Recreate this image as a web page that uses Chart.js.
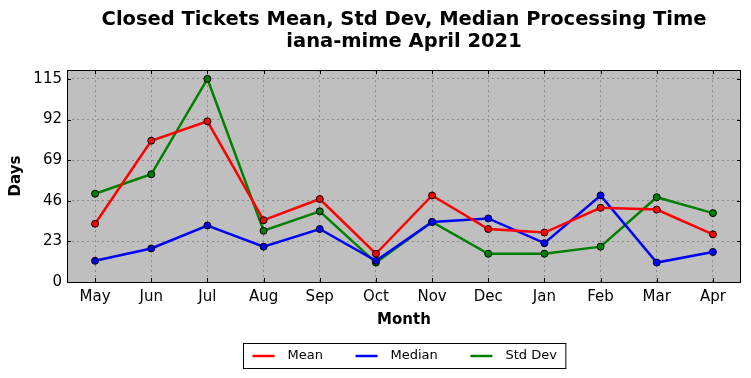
<!DOCTYPE html>
<html>
<head>
<meta charset="utf-8">
<script src="https://cdn.jsdelivr.net/npm/chart.js@4.4.1/dist/chart.umd.min.js"></script>
<style>
  html, body { margin: 0; padding: 0; background: #ffffff; }
  #wrap { width: 751px; height: 378px; position: relative; }
</style>
</head>
<body>
<div id="wrap"><canvas id="c" width="751" height="378"></canvas></div>
<script>
const months = ["May","Jun","Jul","Aug","Sep","Oct","Nov","Dec","Jan","Feb","Mar","Apr"];
const meanValues = [33, 80, 91, 35, 47, 16, 49, 30, 28, 42, 41, 27];
const medianValues = [12, 19, 32, 20, 30, 12, 34, 36, 22, 49, 11, 17];
const stdDevValues = [50, 61, 115, 29, 40, 11, 34, 16, 16, 20, 48, 39];
const yTicks = [0, 23, 46, 69, 92, 115];
const titleLines = ["Closed Tickets Mean, Std Dev, Median Processing Time", "iana-mime April 2021"];

const FONT = "'DejaVu Sans', 'Liberation Sans', sans-serif";
const GRID = '#8a8a8a';

const framePlugin = {
  id: 'framePlugin',
  beforeDraw(chart) {
    const {ctx, chartArea: a} = chart;
    ctx.save();
    ctx.fillStyle = '#bfbfbf';
    ctx.fillRect(a.left, a.top, a.right - a.left, a.bottom - a.top);
    ctx.restore();
  },
  afterDraw(chart) {
    const {ctx, chartArea: a} = chart;
    const xs = chart.scales.x, ys = chart.scales.y;
    ctx.save();
    ctx.strokeStyle = '#000';
    ctx.lineWidth = 1;
    // inward tick marks
    ctx.beginPath();
    xs.ticks.forEach((t, i) => {
      const x = Math.round(xs.getPixelForTick(i)) + 0.5;
      ctx.moveTo(x, a.bottom); ctx.lineTo(x, a.bottom - 4);
      ctx.moveTo(x, a.top); ctx.lineTo(x, a.top + 4);
    });
    ys.ticks.forEach((t, i) => {
      const y = Math.round(ys.getPixelForTick(i)) + 0.5;
      ctx.moveTo(a.left, y); ctx.lineTo(a.left + 4, y);
      ctx.moveTo(a.right, y); ctx.lineTo(a.right - 4, y);
    });
    ctx.stroke();
    // frame
    ctx.strokeRect(Math.round(a.left) + 0.5, Math.round(a.top) + 0.5,
                   Math.round(a.right - a.left) - 1, Math.round(a.bottom - a.top));
    // custom legend (matplotlib-style, centred on plot area)
    const ds = chart.data.datasets;
    ctx.font = "13px " + FONT;
    const lineLen = 22, gapText = 13, gapItem = 32.6, pad = 9;
    const widths = ds.map(d => ctx.measureText(d.label).width);
    let total = pad * 2;
    widths.forEach((w, i) => { total += lineLen + gapText + w + (i < ds.length - 1 ? gapItem : 0); });
    const cx = (a.left + a.right) / 2;
    const boxL = Math.round(cx - total / 2) + 0.5;
    const boxT = 343.5, boxH = 25;
    ctx.fillStyle = '#ffffff';
    ctx.fillRect(boxL, boxT, total, boxH);
    ctx.strokeStyle = '#000';
    ctx.lineWidth = 1;
    ctx.strokeRect(boxL, boxT, total, boxH);
    let x = boxL + pad;
    const yMid = boxT + boxH / 2;
    ds.forEach((d, i) => {
      ctx.strokeStyle = d.borderColor;
      ctx.lineWidth = 2.5;
      ctx.beginPath();
      ctx.moveTo(x, yMid); ctx.lineTo(x + lineLen, yMid);
      ctx.stroke();
      x += lineLen + gapText;
      ctx.fillStyle = '#000';
      ctx.textBaseline = 'middle';
      ctx.textAlign = 'left';
      ctx.fillText(d.label, x, yMid);
      x += widths[i] + gapItem;
    });
    ctx.restore();
  }
};

function mkSeries(label, data, color) {
  return {
    label, data,
    borderColor: color,
    backgroundColor: color,
    borderWidth: 2.5,
    tension: 0,
    pointRadius: 3.5,
    pointHoverRadius: 3.5,
    pointBackgroundColor: color,
    pointBorderColor: '#000',
    pointBorderWidth: 1,
    fill: false
  };
}

new Chart(document.getElementById('c'), {
  type: 'line',
  data: {
    labels: months,
    datasets: [
      mkSeries('Mean', meanValues, '#ff0000'),
      mkSeries('Median', medianValues, '#0000ff'),
      mkSeries('Std Dev', stdDevValues, '#008000')
    ]
  },
  options: {
    responsive: false,
    animation: false,
    devicePixelRatio: 1,
    layout: { padding: { top: 0, left: 0, right: 10, bottom: 45 } },
    plugins: {
      legend: { display: false },
      tooltip: { enabled: false },
      title: {
        display: true,
        fullSize: false,
        text: titleLines,
        color: '#000',
        font: { family: FONT, size: 19.5, weight: 'bold', lineHeight: 1.13 },
        padding: { top: 9, bottom: 17 }
      }
    },
    scales: {
      x: {
        offset: true,
        grid: { display: true, offset: false, drawTicks: false, color: GRID, lineWidth: 1 },
        border: { display: false, dash: [2, 3] },
        ticks: { color: '#000', font: { family: FONT, size: 15 }, padding: 6, maxRotation: 0, autoSkip: false },
        title: { display: true, text: 'Month', color: '#000', font: { family: FONT, size: 15, weight: 'bold' }, padding: { top: 4, bottom: 4 } },
        afterFit(s) { s.height = 51; }
      },
      y: {
        min: 0, max: 120,
        grid: { display: true, drawTicks: false, color: GRID, lineWidth: 1 },
        border: { display: false, dash: [2, 3] },
        ticks: { color: '#000', font: { family: FONT, size: 15 }, padding: 5 },
        afterBuildTicks(s) { s.ticks = yTicks.map(v => ({ value: v })); },
        title: { display: true, text: 'Days', color: '#000', font: { family: FONT, size: 15, weight: 'bold' }, padding: { top: 7, bottom: 0 } },
        afterFit(s) { s.width = 67; }
      }
    }
  },
  plugins: [framePlugin]
});
</script>
</body>
</html>
